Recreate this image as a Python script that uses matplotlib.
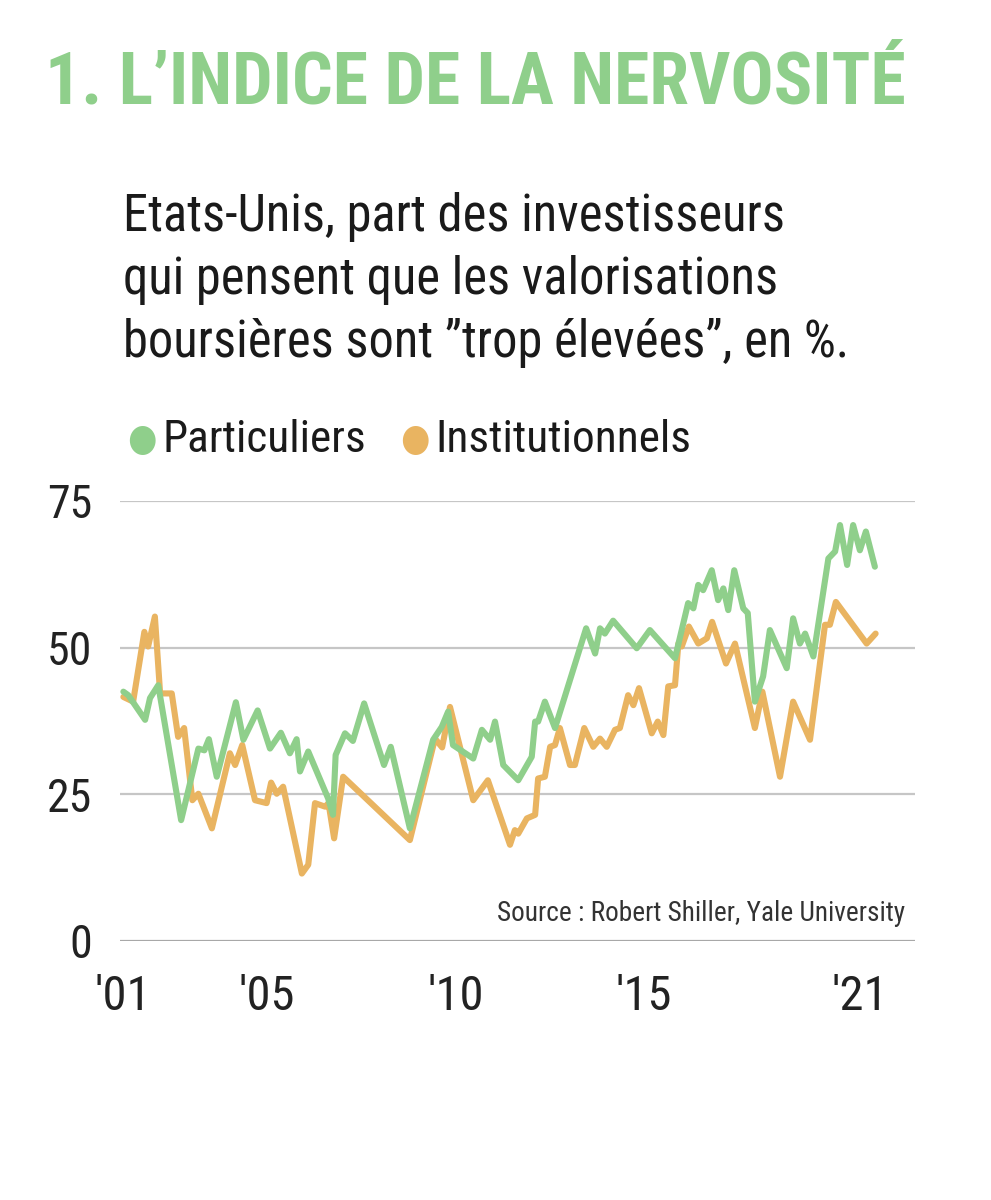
import matplotlib
matplotlib.use("Agg")
import matplotlib.pyplot as plt
from matplotlib import font_manager

# fonts: take a condensed face if one is installed
names = {f.name for f in font_manager.fontManager.ttflist}
narrow = 'DejaVu Sans'
for cand in ['Liberation Sans Narrow', 'Roboto Condensed', 'Open Sans Condensed', 'DejaVu Sans Condensed']:
    if cand in names:
        narrow = cand
        break
plt.rcParams['font.family'] = [narrow, 'DejaVu Sans']
plt.rcParams['font.stretch'] = 'condensed'

# Data, x in decimal years
part_x = [2001.01, 2001.14, 2001.59, 2001.72, 2001.94, 2002.55, 2003.01, 2003.17, 2003.29, 2003.50,
          2004.01, 2004.21, 2004.59, 2004.92, 2005.21, 2005.45, 2005.63, 2005.72, 2005.94, 2006.47,
          2006.60, 2006.67, 2006.92, 2007.13, 2007.43, 2007.96, 2008.14, 2008.65, 2009.27, 2009.50,
          2009.67, 2009.80, 2010.34, 2010.57, 2010.79, 2010.92, 2011.14, 2011.54, 2011.90, 2011.99,
          2012.07, 2012.25, 2012.52, 2013.35, 2013.59, 2013.72, 2013.85, 2014.07, 2014.70, 2015.05,
          2015.72, 2016.07, 2016.21, 2016.34, 2016.47, 2016.70, 2016.87, 2017.01, 2017.14, 2017.30,
          2017.54, 2017.66, 2017.85, 2018.07, 2018.25, 2018.70, 2018.87, 2019.05, 2019.19, 2019.41,
          2019.81, 2019.99, 2020.12, 2020.31, 2020.47, 2020.65, 2020.81, 2021.05]
part_y = [42.5, 41.9, 37.7, 41.4, 43.6, 20.6, 32.8, 32.5, 34.4, 28.0,
          40.7, 34.3, 39.3, 32.8, 35.5, 32.0, 34.4, 28.9, 32.3, 24.3,
          21.5, 31.7, 35.4, 34.1, 40.5, 30.0, 33.1, 19.2, 34.3, 36.5,
          39.1, 33.4, 31.1, 36.0, 34.3, 37.4, 30.0, 27.4, 31.4, 37.4,
          37.4, 40.8, 36.3, 53.3, 49.0, 53.3, 52.4, 54.6, 49.9, 53.0,
          48.2, 57.6, 56.7, 60.7, 59.8, 63.2, 58.1, 60.1, 56.4, 63.2,
          56.7, 55.9, 40.8, 45.1, 53.0, 46.5, 55.0, 50.7, 52.4, 48.5,
          65.2, 66.4, 70.9, 64.1, 70.9, 66.6, 69.8, 63.8]

inst_x = [2001.01, 2001.27, 2001.57, 2001.67, 2001.85, 2001.99, 2002.30, 2002.47, 2002.63, 2002.85,
          2003.01, 2003.37, 2003.85, 2003.99, 2004.18, 2004.52, 2004.83, 2004.95, 2005.10, 2005.27,
          2005.77, 2005.94, 2006.12, 2006.39, 2006.48, 2006.63, 2006.87, 2008.65, 2009.32, 2009.51,
          2009.72, 2010.34, 2010.73, 2011.32, 2011.45, 2011.54, 2011.77, 2011.99, 2012.07, 2012.25,
          2012.39, 2012.52, 2012.65, 2012.92, 2013.05, 2013.30, 2013.54, 2013.72, 2013.90, 2014.12,
          2014.25, 2014.47, 2014.61, 2014.76, 2015.10, 2015.26, 2015.41, 2015.54, 2015.72, 2015.81,
          2015.90, 2016.09, 2016.34, 2016.57, 2016.71, 2017.08, 2017.32, 2017.85, 2018.05, 2018.52,
          2018.87, 2019.32, 2019.72, 2019.85, 2020.01, 2020.83, 2021.07]
inst_y = [41.6, 40.8, 52.7, 50.2, 55.3, 42.2, 42.2, 34.8, 36.3, 24.0,
          25.1, 19.2, 32.0, 30.0, 33.4, 24.0, 23.5, 27.0, 25.1, 26.3,
          11.5, 13.0, 23.5, 22.9, 23.5, 17.5, 28.0, 17.2, 34.5, 33.0,
          39.9, 24.0, 27.4, 16.4, 18.9, 18.3, 20.9, 21.5, 27.7, 28.0,
          33.1, 33.4, 36.3, 30.0, 30.0, 36.3, 33.1, 34.5, 33.1, 36.0,
          36.3, 41.9, 40.2, 43.1, 35.4, 37.4, 35.1, 43.4, 43.6, 50.7,
          50.2, 53.6, 50.7, 51.6, 54.4, 47.3, 50.7, 36.3, 42.5, 28.0,
          40.8, 34.3, 53.9, 53.9, 57.8, 50.7, 52.4]

y_ticks = [0, 25, 50, 75]
x_ticks = [2001.0, 2004.84, 2009.88, 2014.89, 2020.65]
x_labels = ["'01", "'05", "'10", "'15", "'21"]

green = '#8fcf8b'
orange = '#e9b461'
ink = '#1a1a1a'

fig = plt.figure(figsize=(9.91, 12), dpi=100)
renderer = fig.canvas.get_renderer()


def fit(t, width_px):
    # shrink/grow a text so it spans the width seen in the reference
    w = t.get_window_extent(renderer=renderer).width
    t.set_fontsize(t.get_fontsize() * width_px / w)
    return t


ax = fig.add_axes([120/991, 1 - 941/1200, 795/991, 440/1200])

for v in y_ticks[1:]:
    ax.axhline(v, color='#c6c6c6', lw=1.6, zorder=1)
ax.axhline(0, color='#a8a8a8', lw=1.6, zorder=1)

ax.plot(inst_x, inst_y, color=orange, lw=4.4, solid_joinstyle='round', solid_capstyle='round', zorder=3)
ax.plot(part_x, part_y, color=green, lw=4.4, solid_joinstyle='round', solid_capstyle='round', zorder=4)

ax.set_xlim(2000.92, 2022.12)
ax.set_ylim(0, 75)
for s in ax.spines.values():
    s.set_visible(False)
ax.set_yticks(y_ticks)
ax.set_yticklabels([str(v) for v in y_ticks])
ax.set_xticks(x_ticks)
ax.set_xticklabels(x_labels)
ax.tick_params(axis='y', length=0, pad=20, labelsize=33, labelcolor='#222222')
ax.tick_params(axis='x', length=0, pad=24, labelsize=35, labelcolor='#222222')

src = ax.text(0.988, 0.062, 'Source : Robert Shiller, Yale University', transform=ax.transAxes,
              ha='right', va='center', fontsize=20, color='#333333')
fit(src, 406)

# title, subtitle, legend
title = fig.text(45/991, 1 - 84/1200, "1. L\u2019INDICE DE LA NERVOSIT\u00c9", ha='left', va='center',
                 fontsize=50, fontweight='bold', color=green)
fit(title, 862)

sub_lines = ["Etats-Unis, part des investisseurs",
             "qui pensent que les valorisations",
             "boursi\u00e8res sont \u201dtrop \u00e9lev\u00e9es\u201d, en %."]
sub_y = [217, 280, 343]
subs = [fig.text(123/991, 1 - yy/1200, s, ha='left', va='center', fontsize=30, color=ink)
        for s, yy in zip(sub_lines, sub_y)]
fit(subs[2], 725)
for t in subs[:2]:
    t.set_fontsize(subs[2].get_fontsize())

fig.text(142/991, 1 - 440/1200, '\u25cf', ha='center', va='center', fontsize=27, color=green,
         family='DejaVu Sans')
leg1 = fig.text(162/991, 1 - 440/1200, 'Particuliers', ha='left', va='center', fontsize=28, color=ink)
fig.text(415/991, 1 - 440/1200, '\u25cf', ha='center', va='center', fontsize=27, color=orange,
         family='DejaVu Sans')
leg2 = fig.text(435/991, 1 - 440/1200, 'Institutionnels', ha='left', va='center', fontsize=28, color=ink)
fit(leg2, 255)
leg1.set_fontsize(leg2.get_fontsize())

fig.savefig('out.png', dpi=100, facecolor='white')
